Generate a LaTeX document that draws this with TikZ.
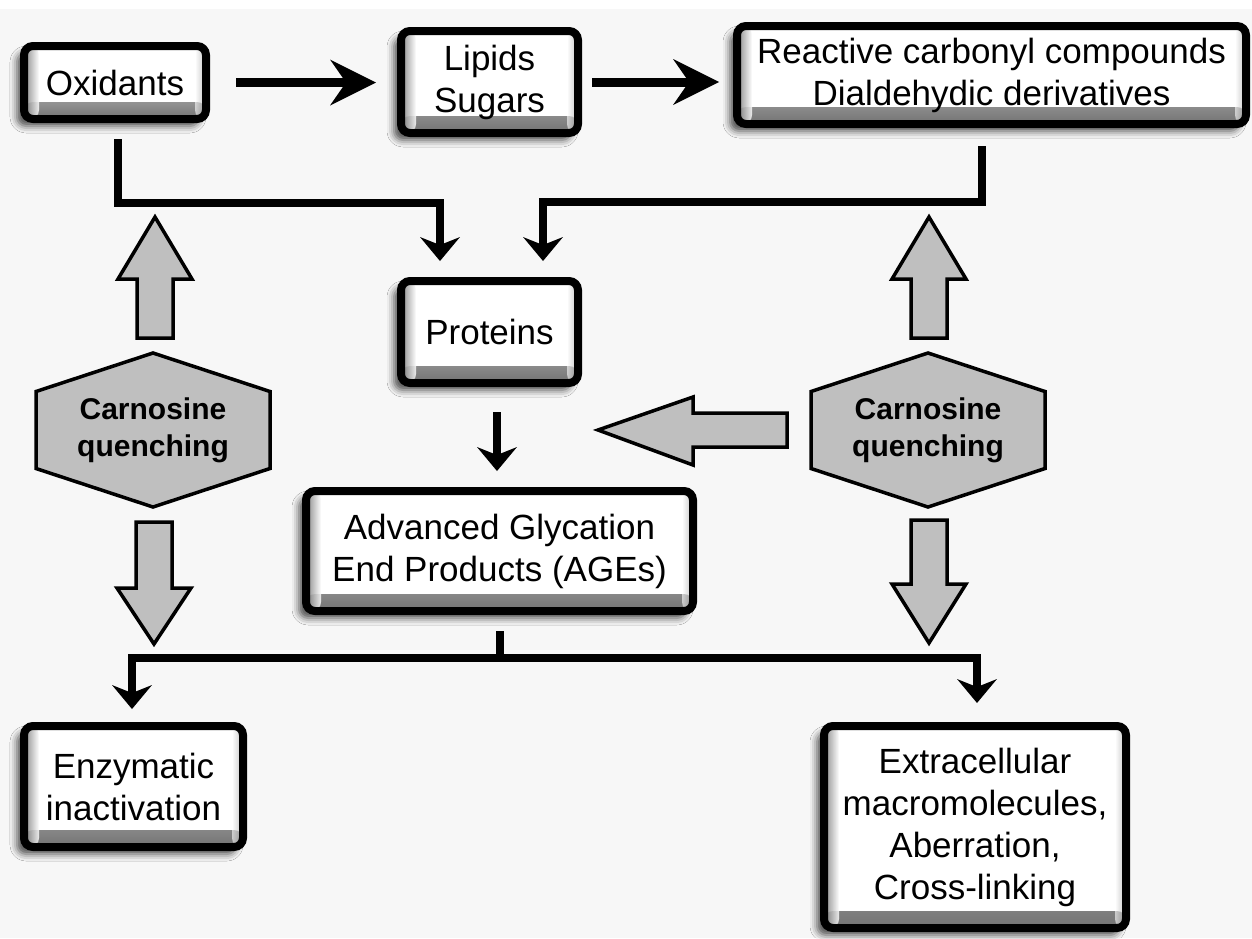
\documentclass[tikz,border=0pt]{standalone}
\usepackage{fontspec}
\setmainfont{Liberation Sans}
\usetikzlibrary{arrows.meta,shadows.blur,calc}
\tikzset{
  bx/.style={draw=black, line width=8pt, rounded corners=9pt, fill=white, align=center,
    inner sep=0pt, font=\fontsize{35}{42}\selectfont,
    blur shadow={shadow xshift=-7pt, shadow yshift=-7pt, shadow blur radius=7pt, shadow opacity=70},
    path picture={
      \shade[top color=white, bottom color=black!55]
        ([yshift=17pt]path picture bounding box.south west) rectangle (path picture bounding box.south east);
      \shade[left color=black!55, right color=white, opacity=0.85]
        (path picture bounding box.south west) rectangle ([xshift=15pt]path picture bounding box.north west);
      \shade[left color=white, right color=black!40, opacity=0.6]
        ([xshift=-11pt]path picture bounding box.south east) rectangle (path picture bounding box.north east);
    }},
  conn/.style={line width=8pt, line join=miter},
  tipc/.style={-{Stealth[length=24pt,width=40pt,inset=8pt,line width=0pt]}},
  bigtip/.style={line width=9pt, -{Stealth[length=46pt,width=46pt,inset=16pt,line width=0pt]}},
  gshape/.style={draw=black, fill=black!25, line width=3.5pt, line join=miter},
  hx/.style={font=\bfseries\fontsize{30}{37}\selectfont, align=center, inner sep=0pt},
}
\begin{document}
\begin{tikzpicture}[x=1pt,y=-1pt]
\fill[white!97!black] (0,0) rectangle (1252,938);
\fill[white] (0,0) rectangle (1252,9);
\useasboundingbox (0,0) rectangle (1252,938);

% boxes
\node[bx, minimum width=182pt, minimum height=73pt] (ox) at (115,82.5) {Oxidants};
\node[bx, minimum width=177pt, minimum height=102pt] (lip) at (489.5,82) {Lipids\\Sugars};
\node[bx, minimum width=509pt, minimum height=98pt] (rcc) at (991.5,75) {Reactive carbonyl compounds\\Dialdehydic derivatives};
\node[bx, minimum width=177pt, minimum height=102pt] (pro) at (489.5,332) {Proteins};
\node[bx, minimum width=387pt, minimum height=120pt] (age) at (499.5,551) {Advanced Glycation\\End Products (AGEs)};
\node[bx, minimum width=219pt, minimum height=121pt] (enz) at (133.5,786.5) {Enzymatic\\inactivation};
\node[bx, minimum width=302pt, minimum height=202pt] (ext) at (975,827) {Extracellular\\macromolecules,\\Aberration,\\Cross-linking};

% hexagons
\coordinate (cL) at (153,430);
\coordinate (cR) at (928,430);
\path[gshape] (cL) ++(0,-77) -- ++(117,38.5) -- ++(0,77) -- ++(-117,38.5) -- ++(-117,-38.5) -- ++(0,-77) -- cycle;
\path[gshape] (cR) ++(0,-77) -- ++(117,38.5) -- ++(0,77) -- ++(-117,38.5) -- ++(-117,-38.5) -- ++(0,-77) -- cycle;
\node[hx] (hexL) at (cL) {Carnosine\\quenching};
\node[hx] (hexR) at (cR) {Carnosine\\quenching};

% gray block arrows
\path[gshape] (137,338) -- (137,279) -- (118,279) -- (155,217) -- (192,279) -- (173,279) -- (173,338) -- cycle;
\path[gshape] (911,338) -- (911,279) -- (892,279) -- (929,217) -- (966,279) -- (947,279) -- (947,338) -- cycle;
\path[gshape] (136,522) -- (172,522) -- (172,588) -- (191,588) -- (154,644) -- (117,588) -- (136,588) -- cycle;
\path[gshape] (911,520) -- (947,520) -- (947,584) -- (966,584) -- (929,643) -- (892,584) -- (911,584) -- cycle;
\path[gshape] (787,413) -- (693,413) -- (693,397) -- (598,430) -- (693,465) -- (693,447) -- (787,447) -- cycle;

% top arrows
\draw[bigtip] ($(ox.east)+(26,0)$) -- ($(lip.west |- ox.east)+(-21,0)$);
\draw[bigtip] ($(lip.east)+(10,0)$) -- ($(rcc.west |- lip.east)+(-14,0)$);

% connectors to proteins
\coordinate (jL) at (118,203);
\coordinate (jR) at (982,202);
\draw[conn,tipc] (jL |- ox.south) ++(0,16) -- (jL) -| ($(pro.north)+(-49.5,-16)$);
\draw[conn,tipc] (jR |- rcc.south) ++(0,18) -- (jR) -| ($(pro.north)+(53.5,-16)$);

% proteins -> AGEs
\draw[conn,tipc] ($(pro.south)+(7.5,25)$) -- ($(age.north)+(-2.5,-16)$);

% AGEs -> outcomes
\coordinate (bus) at (500,658);
\draw[conn] ($(age.south)+(0.5,16)$) -- (bus);
\draw[conn,tipc] (bus) -| ($(enz.north)+(-1.5,-13)$);
\draw[conn,tipc] (bus) -| ($(ext.north)+(2,-19)$);
\end{tikzpicture}
\end{document}
